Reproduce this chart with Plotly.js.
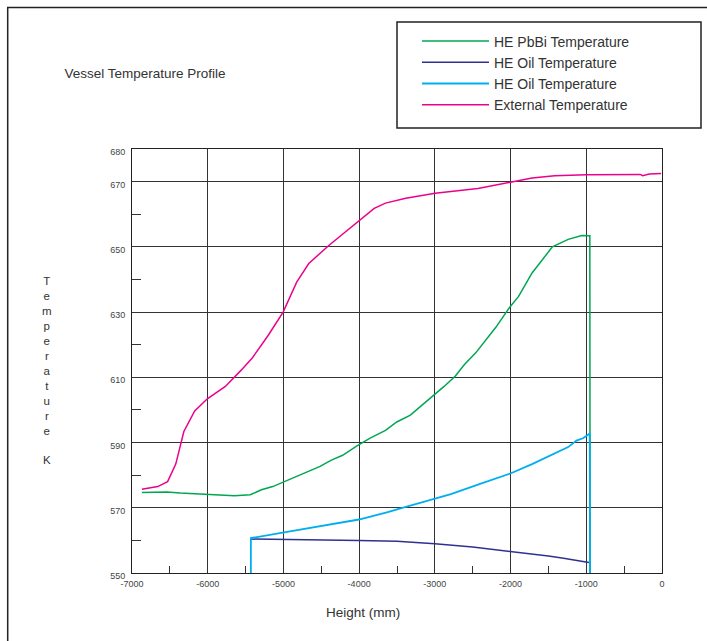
<!DOCTYPE html>
<html>
<head>
<meta charset="utf-8">
<script src="https://cdn.plot.ly/plotly-3.0.1.min.js"></script>
<style>html,body{margin:0;padding:0;background:#fff;}#chart{width:707px;height:641px;}</style>
</head>
<body>
<div id="chart"></div>
<script>
// ---- data ----
const seriesNames = ["HE PbBi Temperature", "HE Oil Temperature", "HE Oil Temperature", "External Temperature"];

const pbbiX = [-6869,-6541,-6363,-6005,-5648,-5439,-5290,-5141,-4992,-4843,-4695,-4516,-4367,-4218,-4039,-3861,-3652,-3503,-3324,-3175,-3026,-2878,-2729,-2609,-2460,-2341,-2192,-2014,-1894,-1716,-1448,-1239,-1060,-953,-950];
const pbbiY = [574.7,574.8,574.5,574.0,573.7,574.0,575.5,576.5,578.0,579.4,581.1,582.7,584.6,586.1,588.8,591.3,593.7,596.3,598.4,601.3,604.1,607.2,610.4,613.9,617.5,621.0,625.4,631.4,634.8,642.0,650.0,652.3,653.5,653.4,550];

const oilDarkX = [-5430,-4600,-4000,-3500,-3000,-2500,-2000,-1500,-1300,-965];
const oilDarkY = [560.4,560.3,560.0,559.7,559.0,558.0,556.7,555.2,554.5,553.2];

const oilLightX = [-5430,-5430,-4933,-4456,-4003,-3622,-3205,-2788,-2431,-2002,-1716,-1418,-1239,-1130,-1043,-955,-950];
const oilLightY = [550,560.7,562.7,564.6,566.4,568.7,571.5,574.2,577.1,580.5,583.4,586.8,588.6,590.6,591.3,592.8,550];

const extX = [-6869,-6660,-6530,-6422,-6315,-6172,-6005,-5767,-5558,-5409,-5200,-5004,-4825,-4665,-4397,-4003,-3801,-3652,-3384,-2997,-2431,-2002,-1716,-1418,-1000,-286,-256,-167,-12];
const extY = [575.7,576.5,578.0,583.4,593.4,599.7,603.4,607.2,612.2,616.0,622.9,630.0,639.2,644.9,650.5,658.0,661.8,663.4,664.9,666.4,667.9,669.8,671.1,671.8,672.1,672.2,671.8,672.3,672.5];

const xTickVals = [-7000,-6000,-5000,-4000,-3000,-2000,-1000,0];
const xTickText = ["-7000","-6000","-5000","-4000","-3000","-2000","-1000","0"];
const xMinorVals = [-6500,-5500,-4500,-3500,-2500,-1500,-500];
const yTickVals = [550,570,590,610,630,650,670,680];
const yTickText = ["550","570","590","610","630","650","670","680"];
const yMinorVals = [560,580,600,620,640,660];

const chartTitle = "Vessel Temperature Profile";
const xTitle = "Height (mm)";
const yTitle = "Temperature K";

// ---- drawing ----
const FONT = "Liberation Sans, Arial, Helvetica, sans-serif";
const colors = ["#00a651", "#2e3192", "#00aeef", "#ec008c"];

const traces = [
  {x: pbbiX, y: pbbiY, name: seriesNames[0], mode: "lines", line: {color: colors[0], width: 1.5}},
  {x: oilDarkX, y: oilDarkY, name: seriesNames[1], mode: "lines", line: {color: colors[1], width: 1.5}},
  {x: oilLightX, y: oilLightY, name: seriesNames[2], mode: "lines", line: {color: colors[2], width: 1.8}},
  {x: extX, y: extY, name: seriesNames[3], mode: "lines", line: {color: colors[3], width: 1.5}}
];

// vertical letters for the y title
const yTitleStacked = yTitle.split("").map(c => c === " " ? "" : c).join("<br>");

const axisCommon = {
  showgrid: true, gridcolor: "#333", gridwidth: 1,
  showline: true, mirror: true, linecolor: "#222", linewidth: 1,
  zeroline: false, ticks: "inside", tickcolor: "#333", tickwidth: 1,
  tickfont: {family: FONT, size: 9, color: "#444"},
  tickmode: "array", fixedrange: true
};

const layout = {
  width: 707, height: 641,
  margin: {l: 132, r: 45, t: 149, b: 68, pad: 0},
  paper_bgcolor: "#fff", plot_bgcolor: "#fff",
  font: {family: FONT, color: "#333"},
  title: {text: chartTitle, x: 64.5/707, xref: "container", xanchor: "left",
          y: 1 - 73/641, yref: "container", yanchor: "middle",
          font: {family: FONT, size: 13.5, color: "#333"}},
  xaxis: Object.assign({}, axisCommon, {
    range: [-7000, 0], tickvals: xTickVals, ticktext: xTickText, ticklen: 7,
    ticklabelstandoff: 2,
    minor: {tickmode: "array", tickvals: xMinorVals, ticks: "inside", ticklen: 7, tickcolor: "#333", showgrid: false}
  }),
  yaxis: Object.assign({}, axisCommon, {
    range: [550, 680], tickvals: yTickVals, ticktext: yTickText, ticklen: 9,
    ticklabelstandoff: 4, ticklabelshift: 3,
    minor: {tickmode: "array", tickvals: yMinorVals, ticks: "inside", ticklen: 9, tickcolor: "#333", showgrid: false}
  }),
  showlegend: true,
  legend: {x: (417-132)/530, y: (573-25.5)/424, xanchor: "left", yanchor: "top",
           bgcolor: "rgba(0,0,0,0)", borderwidth: 0,
           font: {family: FONT, size: 14, color: "#333"}, itemwidth: 67, tracegroupgap: 0},
  annotations: [
    {text: xTitle, xref: "paper", yref: "paper", x: (363-132)/530, y: (573-612)/424,
     xanchor: "center", yanchor: "middle", showarrow: false, font: {family: FONT, size: 13.5, color: "#333"}},
    {text: yTitleStacked, xref: "paper", yref: "paper", x: (47-132)/530, y: (573-370.5)/424,
     xanchor: "center", yanchor: "middle", showarrow: false, align: "center",
     font: {family: FONT, size: 11.5, color: "#333"}}
  ],
  shapes: [
    {type: "rect", xref: "paper", yref: "paper", x0: (397-132)/530, x1: (701-132)/530,
     y0: (573-128)/424, y1: (573-22)/424, line: {color: "#222", width: 1.5}, fillcolor: "rgba(0,0,0,0)"},
    {type: "path", xref: "paper", yref: "paper",
     path: "M " + ((7.7-132)/530) + "," + ((573-700)/424) + " L " + ((7.7-132)/530) + "," + ((573-7.4)/424) + " L " + ((720-132)/530) + "," + ((573-7.4)/424),
     line: {color: "#222", width: 1.5}}
  ]
};

Plotly.newPlot("chart", traces, layout, {staticPlot: true, displayModeBar: false});
</script>
</body>
</html>
